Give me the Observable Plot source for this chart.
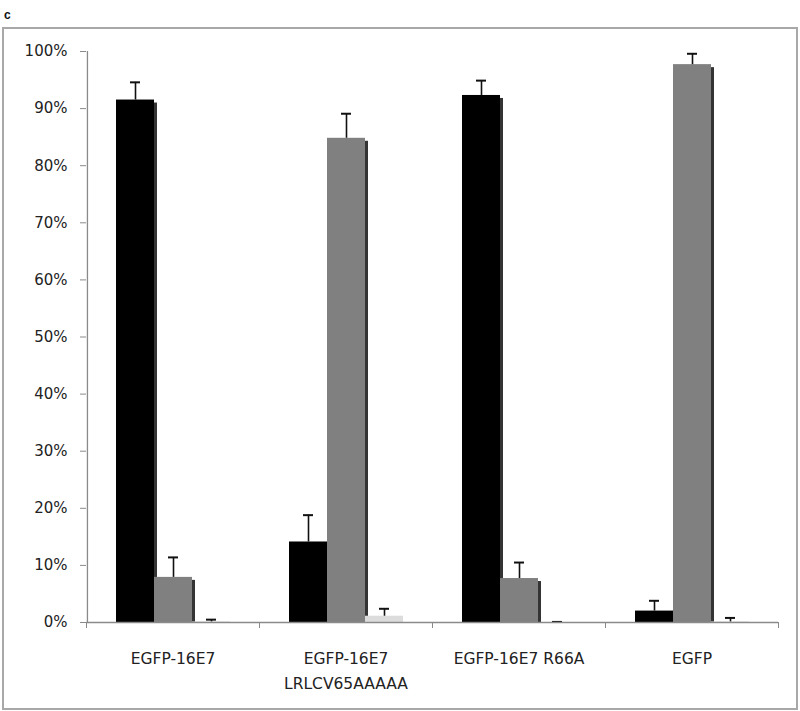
<!DOCTYPE html>
<html><head><meta charset="utf-8">
<script src="https://cdn.jsdelivr.net/npm/d3@7"></script>
<script src="https://cdn.jsdelivr.net/npm/@observablehq/plot@0.6"></script>
<style>
body{margin:0;background:#fff;}
#wrap{position:relative;width:800px;height:711px;overflow:hidden;}
#panel{position:absolute;left:0;top:0;}
#label{position:absolute;left:4px;top:8px;font:bold 12px "Liberation Sans",Arial,sans-serif;color:#111;}
#border{position:absolute;left:2px;top:27px;width:796px;height:683px;border:2px solid #a8a8a8;box-sizing:border-box;}
</style></head>
<body><div id="wrap"><div id="border"></div><div id="label">c</div><div id="panel"></div></div>
<script>
const groups = ["EGFP-16E7", "EGFP-16E7\nLRLCV65AAAAA", "EGFP-16E7 R66A", "EGFP"];
const series = ["Series 1", "Series 2", "Series 3"];
const colors = ["#000000", "#808080", "#dcdcdc"];
const values1 = [0.915, 0.141, 0.923, 0.020];
const errors1 = [0.031, 0.047, 0.026, 0.018];
const values2 = [0.079, 0.848, 0.077, 0.977];
const errors2 = [0.035, 0.043, 0.028, 0.019];
const values3 = [0.001, 0.011, 0.000, 0.001];
const errors3 = [0.004, 0.013, 0.001, 0.007];
const yTicks = d3.range(0, 1.0001, 0.1);

const vals = [values1, values2, values3];
const errs = [errors1, errors2, errors3];
const data = [];
groups.forEach((g, gi) => series.forEach((s, si) => {
  data.push({group: g, series: s, value: vals[si][gi], top: vals[si][gi] + errs[si][gi]});
}));

const W = 800, H = 711, mL = 86, mR = 22;
const half = (W - mL - mR) / groups.length / 2;
const padOuter = 0.75;
const step = 2 * half / (series.length + 2 * padOuter);
const axisColor = "#8a8a8a";

const chart = Plot.plot({
  width: W, height: H,
  marginLeft: mL, marginRight: mR, marginTop: 51, marginBottom: 89,
  style: {fontFamily: "'DejaVu Sans', Verdana, sans-serif", color: "#222", background: "transparent"},
  fx: {domain: groups, padding: 0, label: null, axis: null},
  x: {domain: series, paddingInner: 0, paddingOuter: padOuter, axis: null},
  y: {domain: [0, 1], axis: null},
  color: {domain: series, range: colors},
  marks: [
    Plot.barY(data.filter(d => d.series !== "Series 3"), {fx: "group", x: "series", y: "value", fill: "#111", dx: 3, insetTop: 3, fillOpacity: 0.85}),
    Plot.barY(data, {fx: "group", x: "series", y: "value", fill: "series"}),
    Plot.ruleX(data, {fx: "group", x: "series", y1: "value", y2: "top", stroke: "#111", strokeWidth: 1.6}),
    Plot.tickY(data, {fx: "group", x: "series", y: "top", stroke: "#111", strokeWidth: 2, inset: 14}),
    Plot.ruleY([0], {stroke: axisColor, strokeWidth: 1.3}),
    Plot.ruleX([{group: groups[0], series: series[0]}], {fx: "group", x: "series", y1: 0, y2: 1, dx: -(padOuter * step + step / 2), stroke: axisColor, strokeWidth: 1.3}),
    Plot.axisY({ticks: yTicks, tickFormat: d3.format(".0%"), tickSize: 6, tickPadding: 13, fontSize: 15, stroke: axisColor, label: null}),
    Plot.axisFx({anchor: "bottom", tickSize: 6, tickFormat: () => "", dx: -half, stroke: axisColor, label: null}),
    Plot.axisFx({anchor: "bottom", tickSize: 6, tickFormat: () => "", dx: half, stroke: axisColor, label: null}),
    Plot.axisFx({anchor: "bottom", tickSize: 0, tickPadding: 24, fontSize: 15.5, lineHeight: 1.6, label: null})
  ]
});
document.getElementById("panel").appendChild(chart);
</script>
</body></html>
